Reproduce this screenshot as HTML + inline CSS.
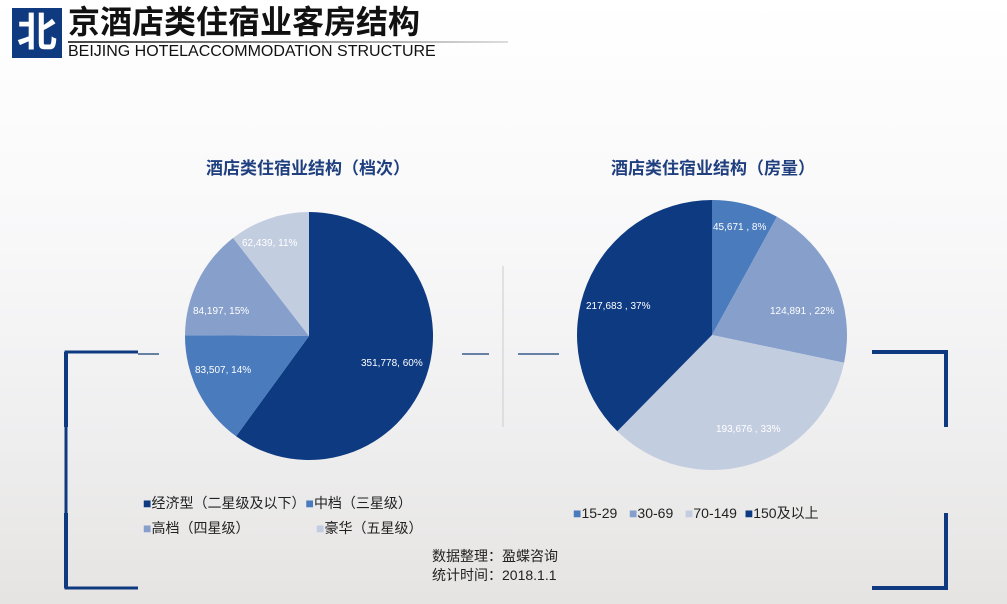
<!DOCTYPE html>
<html><head><meta charset="utf-8"><style>
body{margin:0}
#p{position:relative;width:1007px;height:604px;overflow:hidden;background:linear-gradient(180deg,#fff 0%,#f8f8f9 40%,#efeff0 70%,#e6e4e2 100%);font-family:"Liberation Sans","Noto Sans CJK SC",sans-serif}
.a{position:absolute}
</style></head><body><div id="p">
<div class="a" style="left:12px;top:8px;width:50px;height:50px;background:#0f3a80;color:#fff;font-weight:bold;font-size:40px;line-height:50px;text-align:center">北</div>
<div class="a" style="left:68px;top:3px;font-size:32px;font-weight:bold;color:#111;line-height:38px">京酒店类住宿业客房结构</div>
<div class="a" style="left:68px;top:41px;width:440px;height:2px;background:linear-gradient(90deg,#444,#ddd)"></div>
<div class="a" style="left:68px;top:43px;font-size:16px;color:#111;line-height:18px">BEIJING HOTELACCOMMODATION STRUCTURE</div>
<div class="a" style="left:170px;top:154px;width:276px;text-align:center;font-size:17px;font-weight:bold;color:#1f3f7f">酒店类住宿业结构（档次）</div>
<div class="a" style="left:575px;top:154px;width:276px;text-align:center;font-size:17px;font-weight:bold;color:#1f3f7f">酒店类住宿业结构（房量）</div>
<svg class="a" style="left:0;top:0" width="1007" height="604">
<g fill="none" stroke="#0f3a80">
<path d="M138 352H66V588H138" stroke-width="3"/>
<path d="M66 352V427M66 513V588" stroke-width="4"/>
<path d="M872 352H946V427M946 513V588H872" stroke-width="4"/>
<path d="M138 354H159M462 354H489M518 354H559" stroke="#3a5a8a" stroke-width="1.5"/>
</g>
<path d="M503 266V427" stroke="#ccc" stroke-width="1"/>
<g transform="translate(309,336)" stroke="none">
<path d="M0 0V-124A124 124 0 1 1 -72.9 100.3Z" fill="#0e3a82"/>
<path d="M0 0L-72.9 100.3A124 124 0 0 1 -124 -0.8Z" fill="#4a7bbd"/>
<path d="M0 0L-124 -0.8A124 124 0 0 1 -75.9 -98Z" fill="#869fcb"/>
<path d="M0 0L-75.9 -98A124 124 0 0 1 0 -124Z" fill="#c3cde0"/>
</g>
<g transform="translate(712,335)">
<path d="M0 0V-135A135 135 0 0 1 65.0 -118.3Z" fill="#4a7bbd"/>
<path d="M0 0L65.0 -118.3A135 135 0 0 1 132.1 27.8Z" fill="#869fcb"/>
<path d="M0 0L132.1 27.8A135 135 0 0 1 -94.7 96.2Z" fill="#c3cde0"/>
<path d="M0 0L-94.7 96.2A135 135 0 0 1 0 -135Z" fill="#0e3a82"/>
</g>
<g font-size="10" fill="#fff" font-family="Liberation Sans,sans-serif">
<text x="242" y="246">62,439, 11%</text>
<text x="193" y="314">84,197, 15%</text>
<text x="195" y="373">83,507, 14%</text>
<text x="361" y="366">351,778, 60%</text>
<text x="713" y="230">45,671 , 8%</text>
<text x="770" y="314">124,891 , 22%</text>
<text x="716" y="432">193,676 , 33%</text>
<text x="586" y="309">217,683 , 37%</text>
</g>
</svg>
<div class="a" style="left:143px;top:494px;font-size:14px;color:#222;line-height:18px;white-space:nowrap">
<span style="color:#0e3a82">■</span>经济型（二星级及以下）<span style="color:#4a7bbd">■</span>中档（三星级）</div>
<div class="a" style="left:143px;top:519px;font-size:14px;color:#222;line-height:18px;white-space:nowrap"><span style="color:#869fcb">■</span>高档（四星级）</div>
<div class="a" style="left:316px;top:519px;font-size:14px;color:#222;line-height:18px;white-space:nowrap"><span style="color:#c3cde0">■</span>豪华（五星级）</div>
<div class="a" style="left:573px;top:504px;font-size:14px;color:#222;line-height:18px;white-space:nowrap"><span style="color:#4a7bbd">■</span>15-29 &nbsp; <span style="color:#869fcb">■</span>30-69 &nbsp; <span style="color:#c3cde0">■</span>70-149 &nbsp;<span style="color:#0e3a82">■</span>150及以上</div>
<div class="a" style="left:432px;top:547px;font-size:14px;color:#222;line-height:19px">数据整理：盈蝶咨询<br>统计时间：2018.1.1</div>
</div></body></html>
